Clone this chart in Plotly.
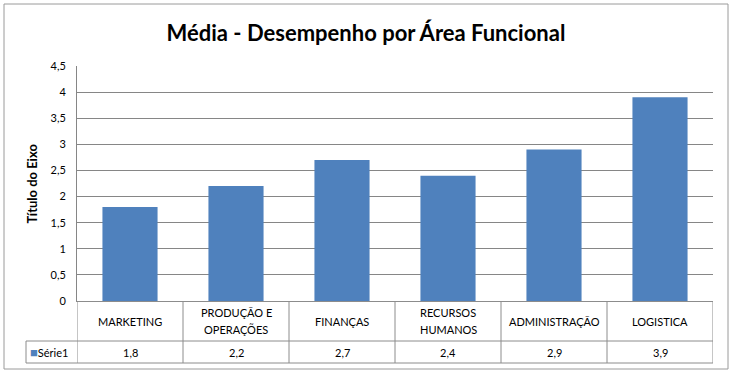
import plotly.graph_objects as go

categories = ["MARKETING", "PRODUÇÃO E<br>OPERAÇÕES", "FINANÇAS", "RECURSOS<br>HUMANOS", "ADMINISTRAÇÃO", "LOGISTICA"]
values = [1.8, 2.2, 2.7, 2.4, 2.9, 3.9]
series_name = "Série1"
y_ticks = [0, 0.5, 1, 1.5, 2, 2.5, 3, 3.5, 4, 4.5]
y_tick_labels = ["0", "0,5", "1", "1,5", "2", "2,5", "3", "3,5", "4", "4,5"]
title = "Média - Desempenho por Área Funcional"
y_title = "Título do Eixo"

BAR = "#4F81BD"
GRID = "#868686"
LINE = "#8C8C8C"
FONT = "Lato"

W, H = 732, 375
L, R, T, B = 77, 19, 66, 74
pw, ph = W - L - R, H - T - B

def px_x(p):
    return (p - L) / pw

def px_y(p):
    return (H - B - p) / ph

xs = list(range(len(categories)))

fig = go.Figure()
fig.add_trace(go.Bar(x=xs, y=values, marker=dict(color=BAR, line=dict(width=0)),
                     name=series_name, showlegend=False, hoverinfo="skip"))

row1_bottom = px_y(341)
row2_bottom = px_y(363)
row1_mid = px_y(321)
row2_mid = px_y(352)
label_left = px_x(26)

shapes = []
for i in range(len(categories) + 1):
    shapes.append(dict(type="line", xref="x", yref="paper", x0=i - 0.5, x1=i - 0.5,
                       y0=0, y1=row2_bottom, line=dict(color=LINE, width=1)))
shapes.append(dict(type="line", xref="paper", yref="paper", x0=label_left, x1=1,
                   y0=row1_bottom, y1=row1_bottom, line=dict(color=LINE, width=1)))
shapes.append(dict(type="line", xref="paper", yref="paper", x0=label_left, x1=1,
                   y0=row2_bottom, y1=row2_bottom, line=dict(color=LINE, width=1)))
shapes.append(dict(type="line", xref="paper", yref="paper", x0=label_left, x1=label_left,
                   y0=row1_bottom, y1=row2_bottom, line=dict(color=LINE, width=1)))
shapes.append(dict(type="rect", xref="paper", yref="paper", x0=px_x(4), x1=px_x(728),
                   y0=px_y(369), y1=px_y(4), line=dict(color="#9A9A9A", width=1), layer="below"))

LINE_GAP = 17
annotations = []
for i, (c, v) in enumerate(zip(categories, values)):
    parts = c.split("<br>")
    n = len(parts)
    for k, part in enumerate(parts):
        shift = ((n - 1) / 2 - k) * LINE_GAP
        annotations.append(dict(x=i, y=row1_mid, xref="x", yref="paper", text=part, showarrow=False,
                                xanchor="center", yanchor="middle", yshift=shift,
                                font=dict(size=11, color="#000")))
    annotations.append(dict(x=i, y=row2_mid, xref="x", yref="paper",
                            text=f"{v:.1f}".replace(".", ","), showarrow=False,
                            xanchor="center", yanchor="middle", font=dict(size=11, color="#000")))
annotations.append(dict(x=px_x(28), y=row2_mid, xref="paper", yref="paper",
                        text=f"<span style='color:{BAR};font-size:13px'>■</span>{series_name}",
                        showarrow=False, xanchor="left", yanchor="middle",
                        font=dict(size=11, color="#000")))
annotations.append(dict(x=px_x(31), y=0.5, xref="paper", yref="paper", text=f"<b>{y_title}</b>",
                        textangle=-90, showarrow=False, xanchor="center", yanchor="middle",
                        font=dict(size=13, color="#000")))

fig.update_layout(
    width=W, height=H,
    margin=dict(l=L, r=R, t=T, b=B),
    paper_bgcolor="white", plot_bgcolor="white",
    font=dict(family=FONT, size=11, color="#000"),
    title=dict(text=title, x=0.5, xref="container", xanchor="center", y=1 - 33 / H, yanchor="middle",
               font=dict(family=FONT, size=22, color="#000", weight="bold")),
    bargap=0.48,
    shapes=shapes,
    annotations=annotations,
    xaxis=dict(range=[-0.5, 5.5], showticklabels=False, showgrid=False, zeroline=False,
               showline=True, linecolor=LINE, linewidth=1, ticks="", fixedrange=True),
    yaxis=dict(range=[0, 4.5], tickvals=y_ticks, ticktext=y_tick_labels, showgrid=True,
               gridcolor=GRID, gridwidth=1, zeroline=False, showline=True, linecolor=GRID,
               linewidth=1, ticks="", ticklabelstandoff=8, tickfont=dict(size=11, color="#000"),
               automargin=False, fixedrange=True),
)

fig.write_html("out.html", config={"displayModeBar": False},
               post_script="document.body.style.margin='0px';")
